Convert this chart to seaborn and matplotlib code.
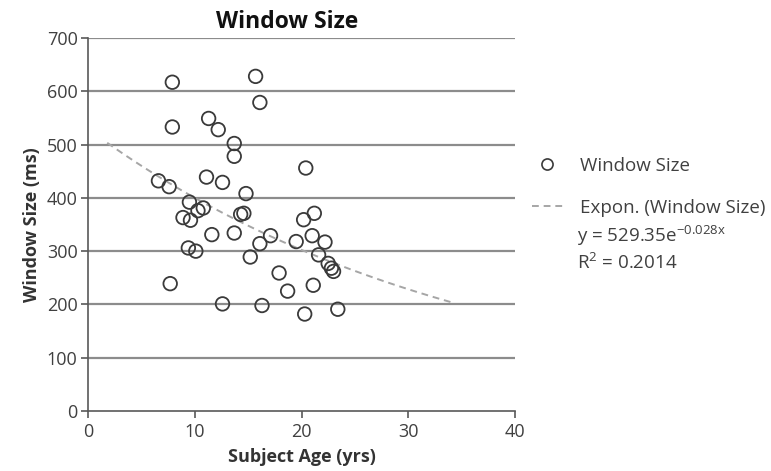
import numpy as np
import pandas as pd
import matplotlib
matplotlib.use("Agg")
import matplotlib.pyplot as plt
import seaborn as sns
from matplotlib.lines import Line2D

# Data
age = [7.9, 15.7, 16.1, 7.9, 11.3, 12.2, 13.7, 13.7, 20.4, 6.6,
       7.6, 11.1, 12.6, 14.8, 9.5, 10.8, 10.3, 8.9, 9.6, 14.3,
       14.6, 20.2, 21.2, 11.6, 13.7, 17.1, 16.1, 19.5, 21.0, 22.2,
       9.4, 10.1, 15.2, 21.6, 22.5, 22.8, 23.0, 7.7, 17.9, 18.7,
       21.1, 12.6, 16.3, 20.3, 23.4]
window = [617, 628, 579, 533, 549, 528, 502, 478, 456, 432,
          421, 439, 429, 408, 392, 381, 376, 363, 358, 369,
          371, 359, 371, 331, 334, 329, 314, 318, 329, 317,
          306, 300, 289, 293, 277, 268, 262, 239, 259, 225,
          236, 201, 198, 182, 191]
fit_a = 529.35
fit_b = -0.028
fit_range = [1.8, 34.0]
x_ticks = [0, 10, 20, 30, 40]
y_ticks = [0, 100, 200, 300, 400, 500, 600, 700]

df = pd.DataFrame({"age": age, "window": window})
fx = np.linspace(fit_range[0], fit_range[1], 100)
fit_df = pd.DataFrame({"age": fx, "window": fit_a * np.exp(fit_b * fx)})

sns.set_theme(style="white")
plt.rcParams["font.family"] = ["Open Sans", "DejaVu Sans"]

W, H = 771, 471
fig = plt.figure(figsize=(W / 100, H / 100), dpi=100)
ax = fig.add_axes([88 / W, 1 - 411 / H, (515 - 88) / W, (411 - 38) / H])

grid_c = "#8c8c8c"
for yv in y_ticks[1:]:
    ax.axhline(yv, color=grid_c, lw=1.6, zorder=0)

dash = (0, (3.5, 2.5))
sns.lineplot(data=fit_df, x="age", y="window", ax=ax, color="#a6a6a6",
             lw=1.4, linestyle=dash, zorder=2)
sns.scatterplot(data=df, x="age", y="window", ax=ax, s=95,
                facecolor="none", edgecolor="#3a3a3a", linewidth=1.3, zorder=3)

ax.set_xlim(0, 40)
ax.set_ylim(0, 700)
ax.set_xticks(x_ticks)
ax.set_yticks(y_ticks)
ax.tick_params(axis="both", direction="out", length=5, width=1.2,
               color="#595959", labelsize=13, labelcolor="#404040", pad=2.5)
ax.tick_params(axis="x", bottom=True, pad=3.5)
ax.tick_params(axis="y", left=True)
for side in ["top", "right"]:
    ax.spines[side].set_visible(False)
for side in ["left", "bottom"]:
    ax.spines[side].set_color("#595959")
    ax.spines[side].set_linewidth(1.2)

ax.set_xlabel("Subject Age (yrs)", fontsize=13, fontweight="bold",
              color="#333333", labelpad=5)
ax.set_ylabel("Window Size (ms)", fontsize=13, fontweight="bold",
              color="#333333", labelpad=4)
fig.text(287 / W, 1 - 22 / H, "Window Size", fontsize=16.5, fontweight="bold",
         color="#111111", ha="center", va="center")

handles = [
    Line2D([], [], marker="o", linestyle="none", markerfacecolor="none",
           markeredgecolor="#3a3a3a", markersize=8, markeredgewidth=1.2),
    Line2D([], [], color="#a6a6a6", lw=1.4, linestyle=dash),
]
leg = fig.legend(handles, ["Window Size", "Expon. (Window Size)"],
                 loc="upper left", bbox_to_anchor=(532 / W, 1 - 157 / H),
                 frameon=False, fontsize=13.5, labelspacing=1.27,
                 borderpad=0, borderaxespad=0,
                 handlelength=1.65, handletextpad=0.9)
for t in leg.get_texts():
    t.set_color("#404040")

fig.text(577 / W, 1 - 236 / H, r"y = 529.35e$^{\mathregular{-0.028x}}$",
         fontsize=13.5, color="#404040", va="center")
fig.text(577 / W, 1 - 263 / H, r"R$^{\mathregular{2}}$ = 0.2014",
         fontsize=13.5, color="#404040", va="center")

fig.savefig("out.png", dpi=100)
